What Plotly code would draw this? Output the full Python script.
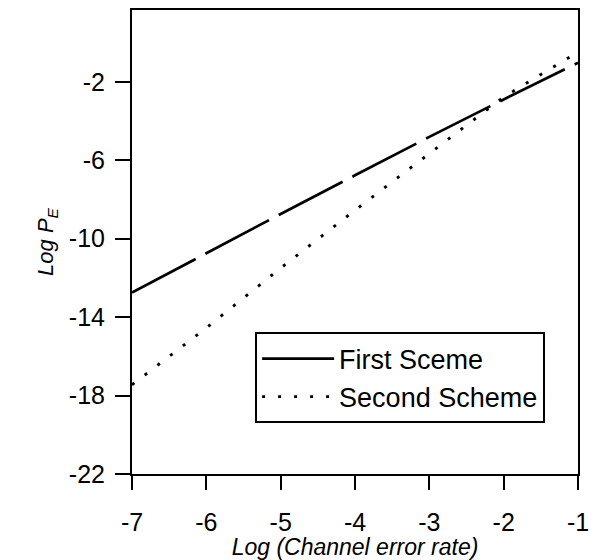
import plotly.graph_objects as go

log_channel_error = [-7, -6, -5, -4, -3, -2, -1]
first_scheme = [-12.75, -10.73, -8.74, -6.77, -4.81, -2.90, -1.03]
second_scheme = [-17.45, -14.55, -11.50, -8.55, -5.66, -2.78, -0.48]

y_ticks = [-22, -18, -14, -10, -6, -2]
x_ticks = [-7, -6, -5, -4, -3, -2, -1]

FONT = "Liberation Sans, Arial, sans-serif"

fig = go.Figure()
fig.add_trace(go.Scatter(
    x=log_channel_error, y=first_scheme, mode="lines", name="First Sceme",
    line=dict(color="black", width=2.7, dash="72px,11px"),
))
fig.add_trace(go.Scatter(
    x=log_channel_error, y=second_scheme, mode="lines", name="Second Scheme",
    line=dict(color="black", width=2.9, dash="3px,13px"),
))

fig.update_layout(
    width=597, height=560,
    margin=dict(l=132, r=8, t=9, b=79),
    paper_bgcolor="white", plot_bgcolor="white",
    font=dict(family=FONT, color="black"),
    showlegend=True,
    legend=dict(
        x=0.276, y=0.305, xanchor="left", yanchor="top",
        bordercolor="black", borderwidth=2, bgcolor="white",
        font=dict(size=27, family=FONT),
        itemwidth=72,
    ),
    xaxis=dict(
        range=[-7, -1], tickvals=x_ticks, ticktext=[str(v) for v in x_ticks],
        showline=True, linecolor="black", linewidth=2, mirror=True,
        ticks="outside", ticklen=14, tickwidth=1.5, tickcolor="black",
        showgrid=False, zeroline=False, ticklabelstandoff=11,
        ticklabeloverflow="allow",
        tickfont=dict(size=25, family=FONT),
        title=dict(text="<i>Log (Channel error rate)</i>", font=dict(size=23, family=FONT), standoff=0),
    ),
    yaxis=dict(
        range=[-22, 1.66], tickvals=y_ticks, ticktext=[str(v) for v in y_ticks],
        showline=True, linecolor="black", linewidth=2, mirror=True,
        ticks="outside", ticklen=15, tickwidth=1.5, tickcolor="black",
        showgrid=False, zeroline=False, ticklabelstandoff=5,
        tickfont=dict(size=25, family=FONT),
        title=dict(text="<i>Log P<sub>E</sub></i>", font=dict(size=22, family=FONT), standoff=9),
    ),
)

fig.write_html("out.html", config={"displayModeBar": False},
               post_script="document.body.style.margin='0';")
